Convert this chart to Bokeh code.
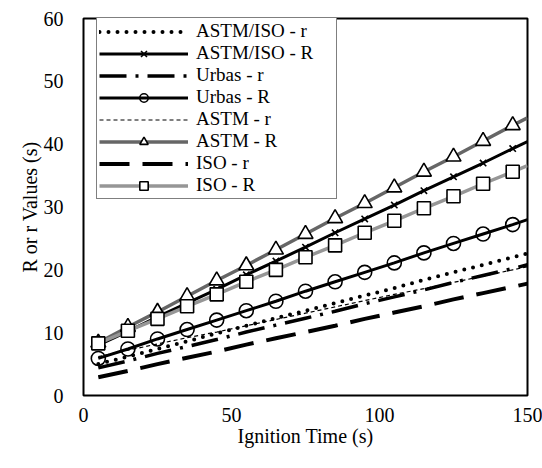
from bokeh.plotting import figure
from bokeh.models import Range1d, Legend, LegendItem, FixedTicker
from bokeh.embed import file_html
from bokeh.resources import INLINE

# ---------------- data ----------------
ignition_time = [5, 15, 25, 35, 45, 55, 65, 75, 85, 95, 105, 115, 125, 135, 145, 150]
astm_iso_r = [5.0, 6.2, 7.4, 8.6, 9.9, 11.1, 12.3, 13.5, 14.7, 15.9, 17.1, 18.4, 19.6, 20.8, 22.0, 22.6]
astm_iso_R = [8.0, 10.2, 12.5, 14.7, 16.9, 19.2, 21.4, 23.6, 25.9, 28.1, 30.3, 32.6, 34.8, 37.0, 39.3, 40.4]
urbas_r = [4.4, 5.5, 6.7, 7.8, 8.9, 10.1, 11.2, 12.3, 13.4, 14.6, 15.7, 16.8, 18.0, 19.1, 20.2, 20.8]
urbas_R = [5.9, 7.4, 9.0, 10.5, 12.0, 13.5, 15.0, 16.6, 18.1, 19.6, 21.1, 22.7, 24.2, 25.7, 27.2, 28.0]
astm_r = [6.2, 7.2, 8.2, 9.2, 10.1, 11.1, 12.1, 13.1, 14.1, 15.1, 16.1, 17.0, 18.0, 19.0, 20.0, 20.5]
astm_R = [8.4, 10.9, 13.3, 15.8, 18.3, 20.7, 23.2, 25.7, 28.2, 30.6, 33.1, 35.6, 38.0, 40.5, 43.0, 44.2]
iso_r = [2.9, 3.9, 5.0, 6.0, 7.0, 8.1, 9.1, 10.1, 11.1, 12.2, 13.2, 14.2, 15.3, 16.3, 17.3, 17.8]
iso_R = [8.3, 10.3, 12.2, 14.2, 16.1, 18.1, 20.0, 22.0, 23.9, 25.9, 27.8, 29.8, 31.7, 33.7, 35.6, 36.6]
n_marked = 15  # markers at 5, 15, ..., 145 s

series_labels = ["ASTM/ISO - r", "ASTM/ISO - R", "Urbas - r", "Urbas - R",
                 "ASTM - r", "ASTM - R", "ISO - r", "ISO - R"]
series_values = [astm_iso_r, astm_iso_R, urbas_r, urbas_R, astm_r, astm_R, iso_r, iso_R]

x_ticks = [0, 50, 100, 150]
y_ticks = [0, 10, 20, 30, 40, 50, 60]
x_title = "Ignition Time (s)"
y_title = "R or r Values (s)"

# ---------------- styles ----------------
FONT = "Liberation Serif"
line_styles = [
    dict(line_color="black", line_width=4, line_dash="0 9", line_cap="round"),
    dict(line_color="black", line_width=3),
    dict(line_color="black", line_width=3.5, line_dash="27 9 3 9"),
    dict(line_color="black", line_width=3),
    dict(line_color="black", line_width=1.2, line_dash="4 3"),
    dict(line_color="#666666", line_width=3.5),
    dict(line_color="black", line_width=4, line_dash="30 13"),
    dict(line_color="#969696", line_width=3.5),
]
marker_styles = [
    None,
    dict(marker="x", size=9, line_color="black", line_width=1.6),
    None,
    dict(marker="circle", size=14, line_color="black", fill_color=None, line_width=1.6),
    None,
    dict(marker="triangle", size=15, line_color="black", fill_color="white", line_width=1.6),
    None,
    dict(marker="square", size=13, line_color="black", fill_color="white", line_width=1.6),
]

W, H = 542, 468
L, R, T, B = 83, 15, 18, 73

p = figure(width=W, height=H, output_backend="svg", toolbar_location=None,
           x_range=Range1d(0, 150), y_range=Range1d(0, 60),
           min_border_left=L, min_border_right=R, min_border_top=T, min_border_bottom=B)
p.xgrid.visible = False
p.ygrid.visible = False
p.outline_line_color = "black"
p.outline_line_width = 2
p.background_fill_color = "white"
p.border_fill_color = "white"

for ax, ticks in ((p.xaxis[0], x_ticks), (p.yaxis[0], y_ticks)):
    ax.ticker = FixedTicker(ticks=ticks)
    ax.axis_line_color = None
    ax.major_tick_line_color = None
    ax.minor_tick_line_color = None
    ax.major_tick_out = 0
    ax.major_tick_in = 0
    ax.major_label_text_font = FONT
    ax.major_label_text_font_size = "20px"
    ax.major_label_text_color = "black"
    ax.axis_label_text_font = FONT
    ax.axis_label_text_font_size = "20px"
    ax.axis_label_text_font_style = "normal"
    ax.axis_label_text_color = "black"
p.xaxis.major_label_standoff = 12
p.yaxis.major_label_standoff = 20
p.xaxis.axis_label = x_title
p.xaxis.axis_label_standoff = 0
p.yaxis.axis_label = y_title
p.yaxis.axis_label_standoff = 0

items = []
for label, vals, ls, ms in zip(series_labels, series_values, line_styles, marker_styles):
    rs = [p.line(ignition_time, vals, **ls)]
    if ms is not None:
        rs.append(p.scatter(ignition_time[:n_marked], vals[:n_marked], **ms))
    items.append(LegendItem(label=label, renderers=rs))

leg = Legend(items=items, location=(13, 196), margin=0, padding=2, spacing=0,
             glyph_width=89, glyph_height=21, label_height=21, label_width=138,
             label_standoff=8, label_text_font=FONT, label_text_font_size="19px",
             label_text_color="black", border_line_color="black", border_line_width=1.5,
             background_fill_color="white", background_fill_alpha=1.0)
p.add_layout(leg, "center")

open("out.html", "w").write(file_html(p, INLINE))
